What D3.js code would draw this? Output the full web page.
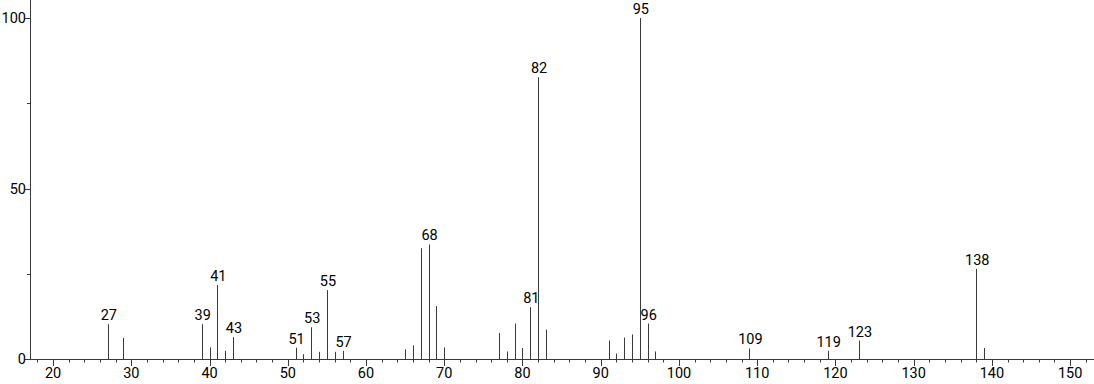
<!DOCTYPE html>
<html><head><meta charset="utf-8">
<script src="https://cdn.jsdelivr.net/npm/d3@7"></script>
<style>body{margin:0;background:#fff}svg{display:block}text{font-family:Roboto,"Liberation Sans",sans-serif}</style>
</head><body><svg id="c" width="1094" height="384"></svg>
<script>
const mz = [27,29,39,40,41,42,43,51,52,53,54,55,56,57,65,66,67,68,69,70,77,78,79,80,81,82,83,91,92,93,94,95,96,97,109,119,123,138,139];
const intensity = [10.2,6.2,10.2,3.4,21.7,2.4,6.4,3.3,1.4,9.3,2.1,20.2,2.1,2.4,2.8,4.0,32.5,33.6,15.5,3.4,7.6,2.2,10.4,3.2,15.2,82.6,8.6,5.4,1.6,6.3,7.2,100,10.4,2.2,3.1,2.4,5.4,26.4,3.2];
const labeled = [27,39,41,43,51,53,55,57,68,81,82,95,96,109,119,123,138];
const xMajor = [20,30,40,50,60,70,80,90,100,110,120,130,140,150];
const yMajor = [0,50,100];

const svg = d3.select("#c");
const x = d3.scaleLinear().domain([17.05,153.05]).range([30,1094]);
const y = d3.scaleLinear().domain([0,100]).range([359,18]);
const col = "#3a3a3a";
const fs = 14.5;

svg.append("line").attr("x1",30.5).attr("x2",30.5).attr("y1",0).attr("y2",359.5).attr("stroke",col);
svg.append("line").attr("x1",30).attr("x2",1094).attr("y1",359.5).attr("y2",359.5).attr("stroke",col);

const xMinor = d3.range(18,153,2);
svg.selectAll(".xmin").data(xMinor).join("line")
  .attr("x1",d=>Math.round(x(d))+0.5).attr("x2",d=>Math.round(x(d))+0.5)
  .attr("y1",359).attr("y2",d=>d%10===0?366:362.5).attr("stroke",col);
svg.selectAll(".xl").data(xMajor).join("text")
  .attr("x",d=>x(d)).attr("y",378).attr("text-anchor","middle")
  .attr("font-size",fs).attr("fill","#000").text(d=>d);

const yTicks = [0,25,50,75,100];
svg.selectAll(".yt").data(yTicks).join("line")
  .attr("x1",d=>d%50===0?25:27).attr("x2",30)
  .attr("y1",d=>Math.round(y(d))+0.5).attr("y2",d=>Math.round(y(d))+0.5).attr("stroke",col);
svg.selectAll(".yl").data(yMajor).join("text")
  .attr("x",26).attr("y",d=>y(d)+5).attr("text-anchor","end")
  .attr("font-size",fs).attr("fill","#000").text(d=>d);

const data = mz.map((m,i)=>({m, v:intensity[i]}));
svg.selectAll(".pk").data(data).join("line")
  .attr("x1",d=>Math.round(x(d.m))+0.5).attr("x2",d=>Math.round(x(d.m))+0.5)
  .attr("y1",359).attr("y2",d=>y(d.v)).attr("stroke",col).attr("stroke-width",1);
svg.selectAll(".pl").data(data.filter(d=>labeled.includes(d.m))).join("text")
  .attr("x",d=>x(d.m)+1).attr("y",d=>y(d.v)-4).attr("text-anchor","middle")
  .attr("font-size",fs).attr("fill","#000").text(d=>d.m);
</script></body></html>
